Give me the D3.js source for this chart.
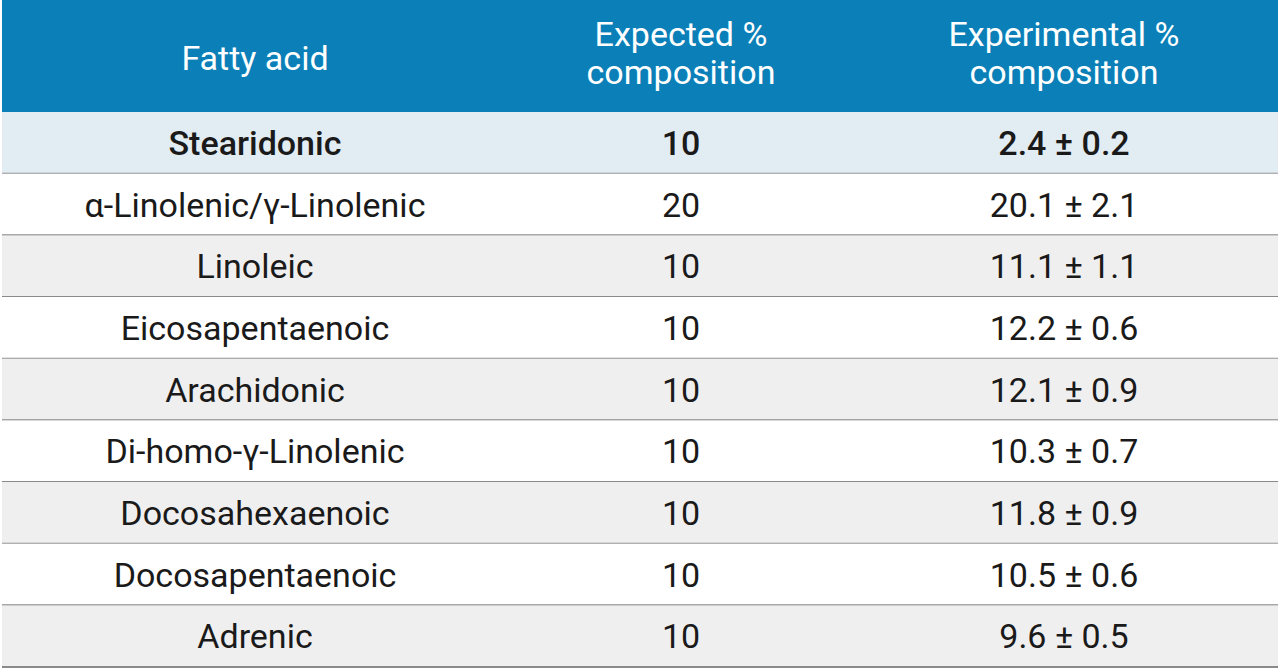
<!DOCTYPE html>
<html><head><meta charset="utf-8">
<script src="https://cdn.jsdelivr.net/npm/d3@7"></script>
<style>body{margin:0;background:#fff}</style></head>
<body><svg id="c" width="1280" height="671"></svg>
<script>
const headers = [["Fatty acid"],["Expected %","composition"],["Experimental %","composition"]];
const acids = ["Stearidonic","α-Linolenic/γ-Linolenic","Linoleic","Eicosapentaenoic","Arachidonic","Di-homo-γ-Linolenic","Docosahexaenoic","Docosapentaenoic","Adrenic"];
const expected = [10,20,10,10,10,10,10,10,10];
const experimental = ["2.4 ± 0.2","20.1 ± 2.1","11.1 ± 1.1","12.2 ± 0.6","12.1 ± 0.9","10.3 ± 0.7","11.8 ± 0.9","10.5 ± 0.6","9.6 ± 0.5"];

const svg = d3.select("#c");
const font = "Roboto, 'Noto Sans', sans-serif";
const x = d3.scaleOrdinal().domain([0,1,2]).range([255,681,1064]);
const y = d3.scaleBand().domain(d3.range(acids.length)).range([112,667]);

svg.append("rect").attr("x",2).attr("y",0).attr("width",1276).attr("height",112).attr("fill","#0b80b8");
headers.forEach((h,i)=>{
  const t = svg.append("text").attr("text-anchor","middle").attr("fill","#fff")
    .attr("font-family",font).attr("font-size",34).attr("font-weight",400);
  const y0 = h.length===1 ? 70 : 46;
  h.forEach((line,j)=>t.append("tspan").attr("x",x(i)).attr("y",y0+j*38).text(line));
});
const bg = i => i===0 ? "#e2ecf3" : (i%2===1 ? "#ffffff" : "#f0eff0");
const rows = svg.selectAll("g.row").data(acids).join("g").attr("class","row");
rows.append("rect").attr("x",2).attr("y",(d,i)=>y(i)).attr("width",1276).attr("height",y.bandwidth()).attr("fill",(d,i)=>bg(i));
rows.append("line").attr("x1",2).attr("x2",1278).attr("y1",(d,i)=>y(i)+y.bandwidth()).attr("y2",(d,i)=>y(i)+y.bandwidth())
  .attr("stroke","#8a8a8a").attr("stroke-width",2);
const cols = [acids, expected, experimental];
cols.forEach((col,ci)=>{
  rows.append("text").attr("x",x(ci)).attr("y",(d,i)=>y(i)+y.bandwidth()/2+12)
    .attr("text-anchor","middle").attr("font-family",font).attr("font-size",34).attr("fill","#1a1a1a")
    .attr("font-weight",(d,i)=>i===0?500:400)
    .text((d,i)=>col[i]);
});
</script></body></html>
